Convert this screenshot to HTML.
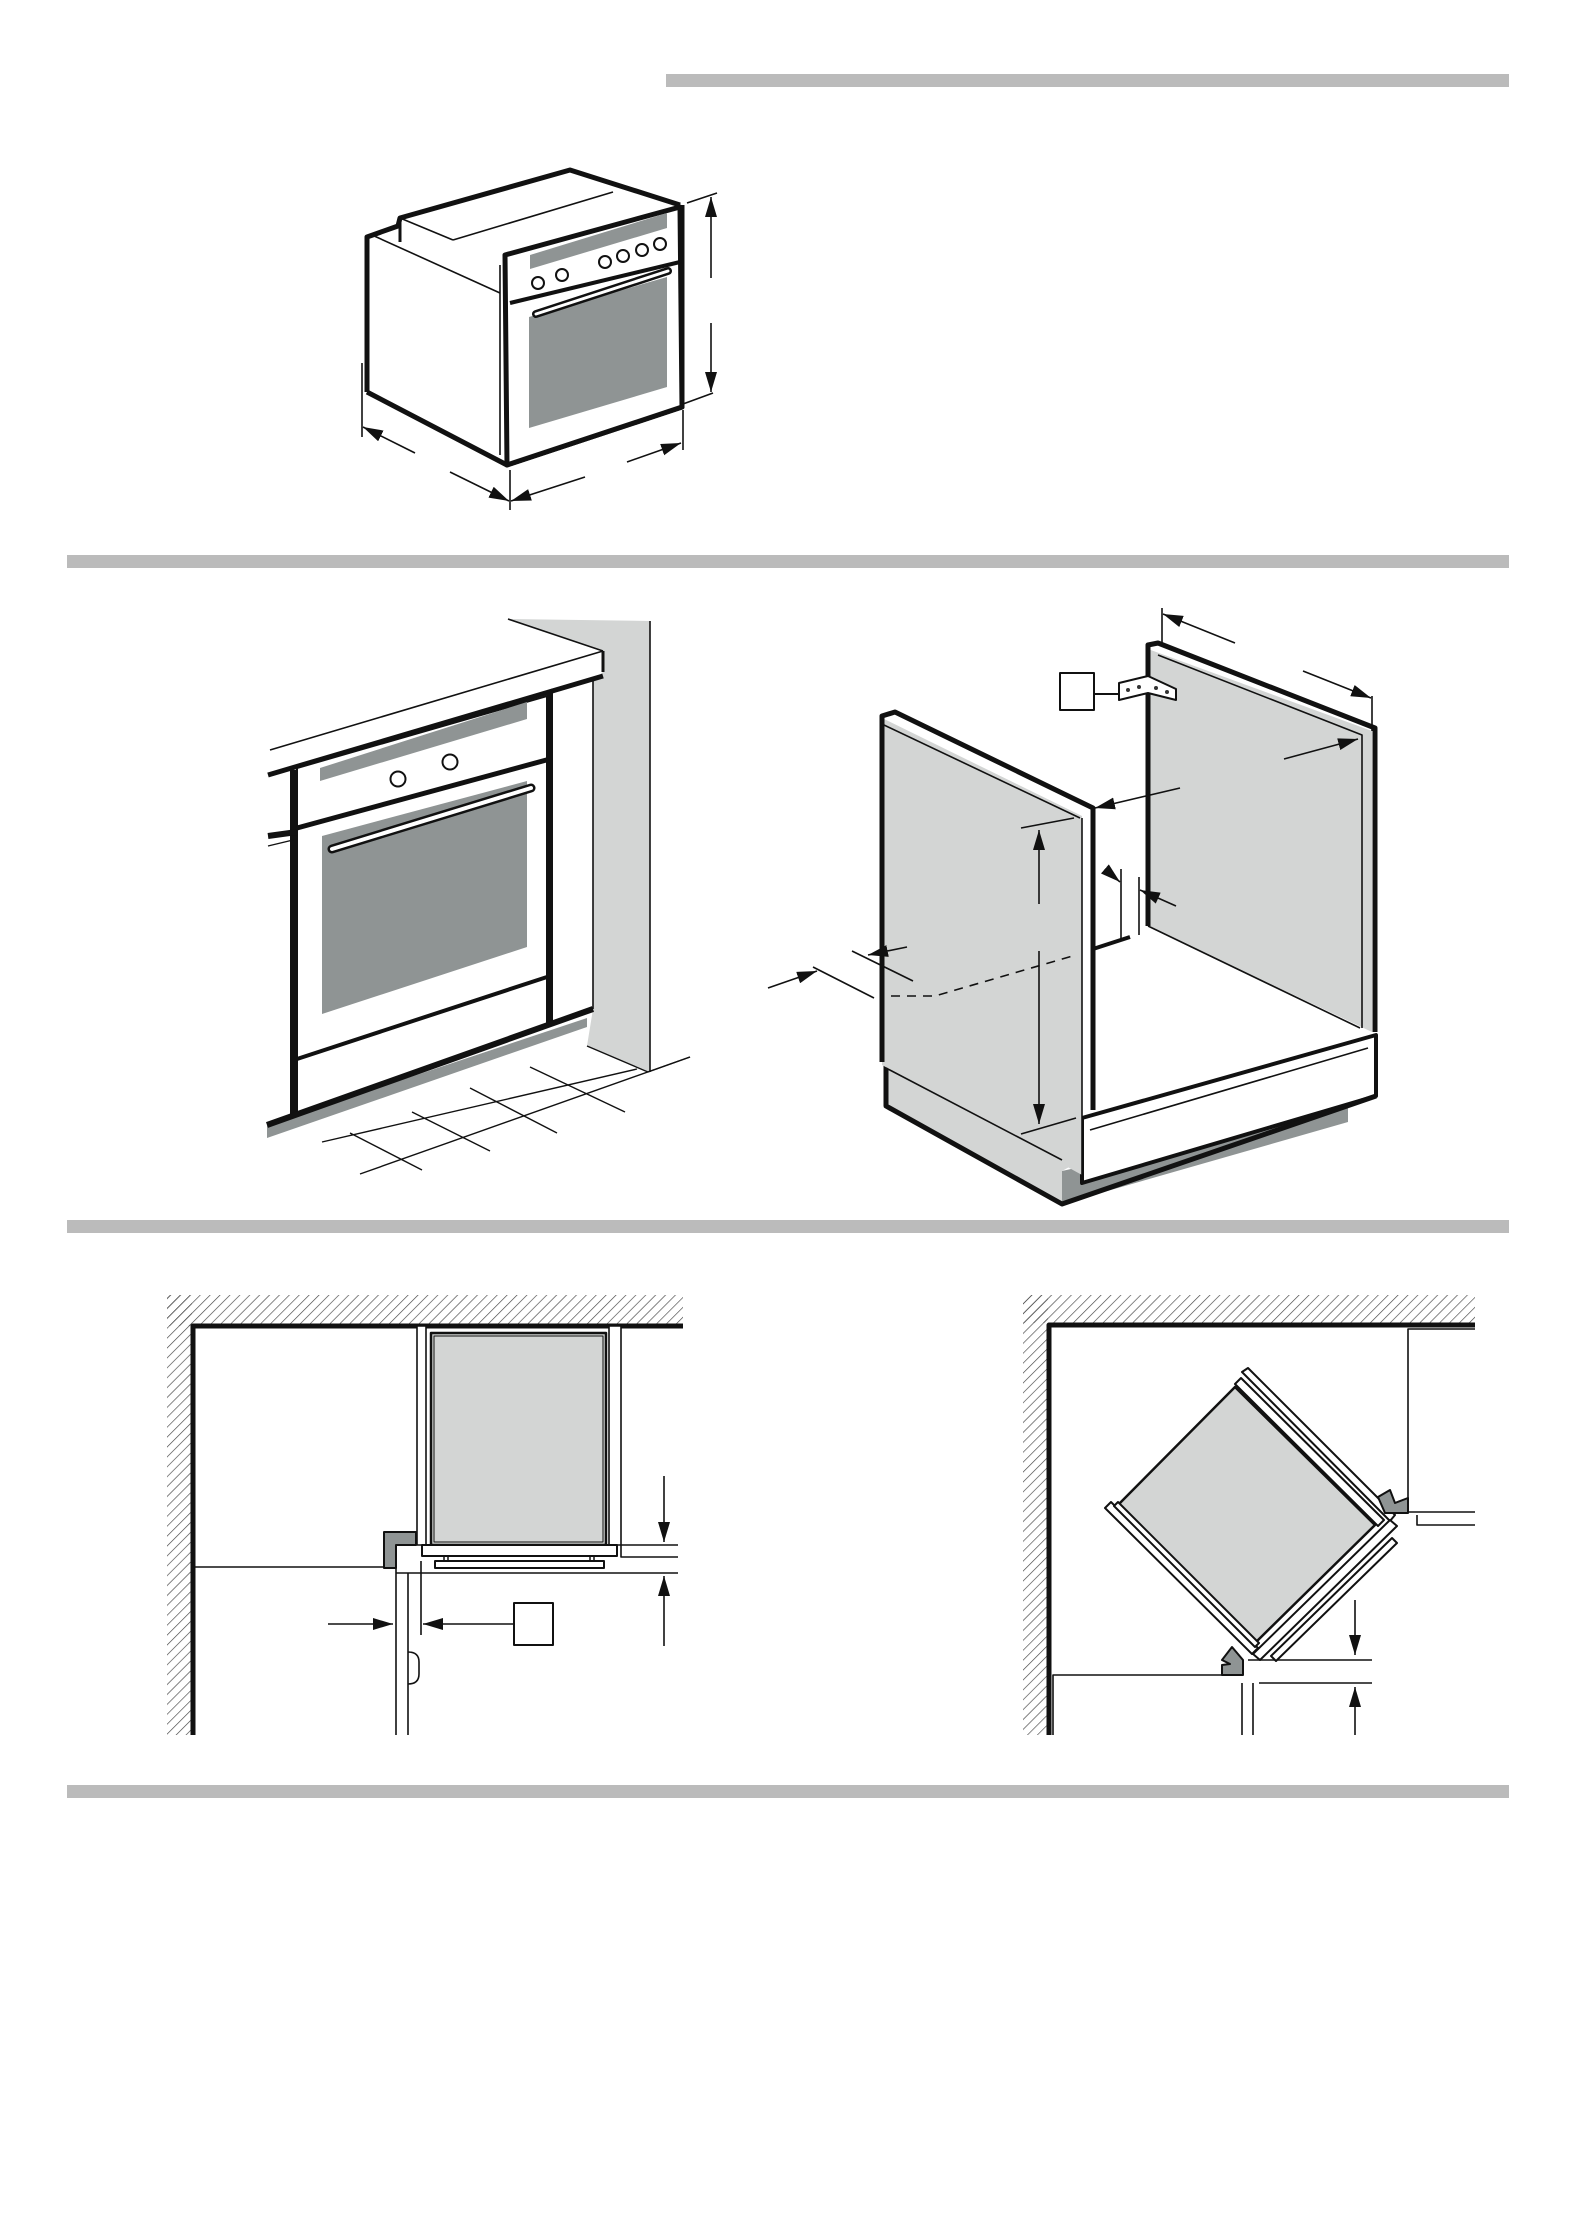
<!DOCTYPE html>
<html><head><meta charset="utf-8"><style>html,body{margin:0;padding:0;background:#fff}svg{display:block}</style></head>
<body>
<svg width="1578" height="2229" viewBox="0 0 1578 2229" xmlns="http://www.w3.org/2000/svg" fill="none" stroke="#111" stroke-linejoin="round">
<defs>
<marker id="a" viewBox="0 0 20 12" refX="20" refY="6" markerWidth="20" markerHeight="12" markerUnits="userSpaceOnUse" orient="auto"><path d="M0,0L20,6L0,12z" fill="#111" stroke="none"/></marker>
<pattern id="h" width="7" height="7" patternUnits="userSpaceOnUse" patternTransform="rotate(45)"><line x1="0" y1="0" x2="0" y2="7" stroke="#444" stroke-width="1.3"/></pattern>
</defs>
<g fill="#bbb" stroke="none">
<rect x="666" y="74" width="843" height="13"/>
<rect x="67" y="555" width="1442" height="13"/>
<rect x="67" y="1220" width="1442" height="13"/>
<rect x="67" y="1785" width="1442" height="13"/>
</g>

<!-- TOP OVEN -->
<g stroke-width="5">
<polyline points="367,392 367,237 398,226 400,218 570,170 680,205"/>
<line x1="400" y1="218" x2="400" y2="242" stroke-width="3"/>
<polyline points="367,392 507,465 682,407 682,205"/>
<polygon points="505,255 680,207 682,407 507,465" fill="#fff"/>
</g>
<g stroke-width="1.6">
<line x1="372" y1="235" x2="500" y2="293"/>
<line x1="400" y1="218" x2="453" y2="240"/>
<line x1="453" y1="240" x2="613" y2="192"/>
<line x1="500" y1="265" x2="500" y2="455"/>
<line x1="510" y1="303" x2="680" y2="262" stroke-width="4"/>
</g>
<polygon points="530,255 667,213 667,228 530,269" fill="#8f9494" stroke="none"/>
<polygon points="529,317 667,277 667,387 529,428" fill="#8f9494" stroke="none"/>
<g stroke-width="2" fill="#fff">
<circle cx="538" cy="283" r="6"/><circle cx="562" cy="275" r="6"/><circle cx="605" cy="262" r="6"/><circle cx="623" cy="256" r="6"/><circle cx="642" cy="250" r="6"/><circle cx="660" cy="244" r="6"/>
</g>
<line x1="536" y1="314" x2="668" y2="271" stroke-width="8" stroke-linecap="round"/>
<line x1="536" y1="314" x2="668" y2="271" stroke="#fff" stroke-width="3" stroke-linecap="round"/>
<g stroke-width="1.6">
<line x1="687" y1="203" x2="717" y2="193"/><line x1="683" y1="404" x2="713" y2="393"/>
<line x1="711" y1="278" x2="711" y2="197" marker-end="url(#a)"/>
<line x1="711" y1="323" x2="711" y2="392" marker-end="url(#a)"/>
<line x1="362" y1="363" x2="362" y2="437"/><line x1="510" y1="470" x2="510" y2="510"/><line x1="683" y1="410" x2="683" y2="450"/>
<line x1="415" y1="453" x2="363" y2="427" marker-end="url(#a)"/>
<line x1="450" y1="472" x2="509" y2="501" marker-end="url(#a)"/>
<line x1="585" y1="477" x2="511" y2="501" marker-end="url(#a)"/>
<line x1="627" y1="462" x2="681" y2="443" marker-end="url(#a)"/>
</g>

<!-- MIDDLE LEFT -->
<polygon points="508,619 650,621 650,1072 587,1046 593,1009 593,681 603,672 603,651" fill="#d3d5d4" stroke="none"/>
<line x1="650" y1="621" x2="650" y2="1072" stroke-width="1.6"/>
<polygon points="270,750 508,619 603,651 603,672 268,775" fill="#fff" stroke="none"/>
<g stroke-width="1.6">
<line x1="508" y1="619" x2="603" y2="651"/>
<line x1="270" y1="750" x2="603" y2="651"/>
<line x1="603" y1="651" x2="603" y2="672" stroke-width="3"/>
<line x1="593" y1="681" x2="593" y2="1009"/>
<line x1="550" y1="690" x2="593" y2="680"/>
</g>
<line x1="268" y1="775" x2="603" y2="676" stroke-width="5"/>
<polygon points="297,768 547,696 547,1024 297,1114" fill="#fff" stroke-width="2"/>
<polygon points="320,768 527,702 527,719 320,781" fill="#8f9494" stroke="none"/>
<polygon points="322,836 527,781 527,947 322,1014" fill="#8f9494" stroke="none"/>
<g stroke-width="2" fill="#fff"><circle cx="398" cy="779" r="7.5"/><circle cx="450" cy="762" r="7.5"/></g>
<line x1="297" y1="828" x2="550" y2="759" stroke-width="5"/>
<line x1="297" y1="1059" x2="547" y2="977" stroke-width="4"/>
<line x1="332" y1="849" x2="531" y2="788" stroke-width="9" stroke-linecap="round"/>
<line x1="332" y1="849" x2="531" y2="788" stroke="#fff" stroke-width="4" stroke-linecap="round"/>
<g stroke-width="6">
<line x1="293" y1="770" x2="293" y2="1114"/>
<line x1="550" y1="693" x2="550" y2="1022"/>
<line x1="268" y1="836" x2="297" y2="832"/>
</g>
<polygon points="267,1125 587,1018 587,1027 267,1138" fill="#8f9494" stroke="none"/>
<line x1="267" y1="1125" x2="593" y2="1009" stroke-width="6"/>
<g stroke-width="1.4">
<line x1="268" y1="846" x2="293" y2="840"/>
<line x1="322" y1="1142" x2="637" y2="1069"/><line x1="360" y1="1174" x2="690" y2="1057"/>
<line x1="350" y1="1133" x2="422" y2="1170"/><line x1="412" y1="1112" x2="490" y2="1151"/>
<line x1="470" y1="1088" x2="557" y2="1133"/><line x1="530" y1="1067" x2="625" y2="1112"/>
<line x1="587" y1="1046" x2="648" y2="1072"/><line x1="648" y1="1072" x2="690" y2="1057"/>
</g>

<!-- MIDDLE RIGHT -->
<polygon points="1148,649 1372,731 1372,1032 1148,926" fill="#d3d5d4" stroke="none"/>
<polygon points="1093,949 1148,926 1360,1028 1082,1118" fill="#fff" stroke="none"/>
<polyline points="1148,926 1148,645 1158,643 1375,728 1375,1032" stroke-width="5"/>
<polyline points="1158,655 1362,735 1362,1028" stroke-width="1.6"/>
<line x1="1148" y1="926" x2="1360" y2="1028" stroke-width="1.6"/>
<line x1="1093" y1="949" x2="1130" y2="937" stroke-width="4"/>
<polygon points="1062,1171 1348,1108 1348,1122 1062,1204" fill="#8f9494" stroke="none"/>
<polygon points="1082,1118 1376,1035 1376,1096 1082,1183" fill="#fff" stroke-width="4"/>
<line x1="1090" y1="1130" x2="1368" y2="1048" stroke-width="1.6"/>
<polygon points="886,1065 1082,1160 1062,1171 1062,1204 886,1106" fill="#d3d5d4" stroke="none"/>
<polyline points="886,1065 886,1106 1062,1204 1376,1096" stroke-width="5"/>
<polygon points="882,718 1082,816 1082,1175 882,1065" fill="#d3d5d4" stroke="none"/>
<polyline points="882,1062 882,716 895,712 1093,808 1093,1110" stroke-width="5"/>
<line x1="884" y1="725" x2="1080" y2="818" stroke-width="1.6"/>
<line x1="1082" y1="818" x2="1082" y2="1175" stroke-width="1.6"/>
<line x1="886" y1="1068" x2="1062" y2="1160" stroke-width="1.6"/>
<rect x="1060" y="673" width="34" height="37" fill="#fff" stroke-width="2"/>
<line x1="1094" y1="694" x2="1119" y2="694" stroke-width="2"/>
<polygon points="1119,683 1148,676 1176,689 1176,700 1148,693 1119,700" fill="#fff" stroke-width="2"/>
<g fill="#333" stroke="none"><circle cx="1128" cy="690" r="2"/><circle cx="1139" cy="687" r="2"/><circle cx="1156" cy="688" r="2"/><circle cx="1167" cy="692" r="2"/></g>
<g stroke-width="1.6">
<line x1="1162" y1="608" x2="1162" y2="643"/><line x1="1372" y1="696" x2="1372" y2="731"/>
<line x1="1235" y1="643" x2="1163" y2="614" marker-end="url(#a)"/>
<line x1="1303" y1="671" x2="1371" y2="698" marker-end="url(#a)"/>
<line x1="1284" y1="759" x2="1358" y2="739" marker-end="url(#a)"/>
<line x1="1180" y1="788" x2="1095" y2="808" marker-end="url(#a)"/>
<line x1="1021" y1="828" x2="1074" y2="818"/><line x1="1021" y1="1134" x2="1076" y2="1118"/>
<line x1="1039" y1="904" x2="1039" y2="830" marker-end="url(#a)"/>
<line x1="1039" y1="951" x2="1039" y2="1124" marker-end="url(#a)"/>
<polyline points="891,996 935,996 1076,955" stroke-dasharray="9,7"/>
<line x1="768" y1="988" x2="817" y2="971" marker-end="url(#a)"/>
<line x1="813" y1="967" x2="874" y2="998"/><line x1="852" y1="951" x2="913" y2="981"/>
<line x1="907" y1="947" x2="868" y2="955" marker-end="url(#a)"/>
<line x1="1121" y1="869" x2="1121" y2="941"/><line x1="1139" y1="877" x2="1139" y2="935"/>
<line x1="1105" y1="869" x2="1120" y2="882" marker-end="url(#a)"/>
<line x1="1176" y1="906" x2="1140" y2="890" marker-end="url(#a)"/>
</g>

<!-- BOTTOM LEFT -->
<rect x="167" y="1295" width="516" height="31" fill="url(#h)" stroke="none"/>
<rect x="167" y="1295" width="25" height="440" fill="url(#h)" stroke="none"/>
<polyline points="193,1735 193,1326 683,1326" stroke-width="5"/>
<rect x="417" y="1326" width="9" height="219" fill="#fff" stroke-width="1.6"/>
<rect x="609" y="1326" width="12" height="219" fill="#fff" stroke-width="1.6"/>
<rect x="431" y="1333" width="175" height="212" fill="#d3d5d4" stroke-width="2.5"/>
<rect x="434" y="1336" width="169" height="206" fill="none" stroke-width="1"/>
<rect x="422" y="1545" width="195" height="11" fill="#fff" stroke-width="2"/>
<rect x="435" y="1561" width="169" height="7" fill="#fff" stroke-width="2"/>
<g stroke-width="1.5"><rect x="444" y="1556" width="4" height="5"/><rect x="590" y="1556" width="4" height="5"/></g>
<path d="M384,1532H416V1545H396V1568H384Z" fill="#8f9494" stroke-width="2"/>
<g stroke-width="1.6">
<line x1="193" y1="1567" x2="384" y2="1567"/>
<line x1="396" y1="1568" x2="396" y2="1735"/><line x1="408" y1="1573" x2="408" y2="1735"/>
<line x1="396" y1="1573" x2="678" y2="1573"/>
<polyline points="621,1545 678,1545"/><polyline points="621,1545 621,1557 678,1557"/>
<line x1="421" y1="1561" x2="421" y2="1635"/>
<line x1="328" y1="1624" x2="393" y2="1624" marker-end="url(#a)"/>
<line x1="513" y1="1624" x2="423" y2="1624" marker-end="url(#a)"/>
<line x1="664" y1="1476" x2="664" y2="1542" marker-end="url(#a)"/>
<line x1="664" y1="1646" x2="664" y2="1576" marker-end="url(#a)"/>
<path d="M408,1652Q419,1652 419,1662V1674Q419,1684 408,1684"/>
</g>
<rect x="514" y="1603" width="39" height="42" fill="#fff" stroke-width="2"/>

<!-- BOTTOM RIGHT -->
<rect x="1023" y="1295" width="452" height="28" fill="url(#h)" stroke="none"/>
<rect x="1023" y="1295" width="25" height="440" fill="url(#h)" stroke="none"/>
<polyline points="1049,1735 1049,1325 1475,1325" stroke-width="5"/>
<g stroke-width="1.6">
<polyline points="1475,1329 1408,1329 1408,1512 1475,1512"/>
<polyline points="1417,1515 1417,1525 1475,1525"/>
<polyline points="1053,1735 1053,1675 1242,1675"/>
<line x1="1242" y1="1683" x2="1242" y2="1735"/><line x1="1253" y1="1683" x2="1253" y2="1735"/>
<line x1="1259" y1="1683" x2="1372" y2="1683"/><line x1="1248" y1="1660" x2="1372" y2="1660"/>
<line x1="1355" y1="1600" x2="1355" y2="1655" marker-end="url(#a)"/>
<line x1="1355" y1="1735" x2="1355" y2="1687" marker-end="url(#a)"/>
</g>
<polygon points="1235,1387 1375,1525 1253,1645 1116,1507" fill="#d3d5d4" stroke-width="2.5"/>
<g fill="#fff" stroke-width="2">
<polygon points="1242,1372 1248,1368 1395,1515 1390,1521"/>
<polygon points="1235,1384 1241,1378 1384,1520 1378,1526"/>
<polygon points="1105,1508 1111,1502 1258,1648 1252,1654"/>
<polygon points="1114,1506 1118,1502 1259,1643 1255,1647"/>
<polygon points="1390,1520 1397,1526 1260,1660 1253,1654"/>
<polygon points="1392,1538 1397,1543 1276,1661 1271,1656"/>
</g>
<path d="M1378,1497L1390,1490L1395,1503L1408,1498V1513H1385Z" fill="#8f9494" stroke-width="2"/>
<path d="M1222,1660L1232,1647L1243,1660V1675H1222V1665L1230,1664Z" fill="#8f9494" stroke-width="2"/>
</svg>
</body></html>
